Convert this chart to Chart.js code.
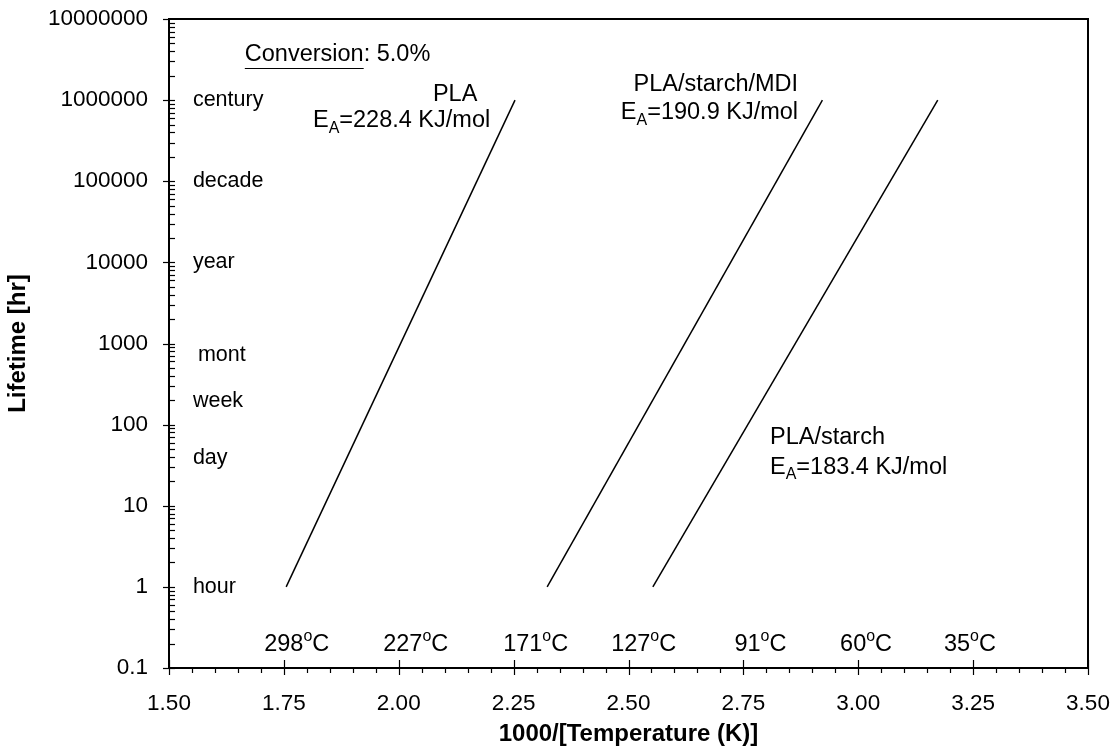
<!DOCTYPE html>
<html lang="en">
<head>
<meta charset="UTF-8">
<title>Lifetime vs 1000/T</title>
<script src="https://cdn.jsdelivr.net/npm/chart.js"></script>
<style>
  html, body { margin: 0; padding: 0; background: #fff; }
  #wrap { width: 1112px; height: 754px; position: relative; }
</style>
</head>
<body>
<div id="wrap"><canvas id="chart"></canvas></div>
<script>
// Series: end points of the Arrhenius lines (x = 1000/T, y = lifetime in hr)
const plaX = [1.755, 2.253];
const plaY = [1, 1000000];
const mdiX = [2.323, 2.922];
const mdiY = [1, 1000000];
const starchX = [2.553, 3.173];
const starchY = [1, 1000000];

// Axis ticks
const xTicks = [1.50, 1.75, 2.00, 2.25, 2.50, 2.75, 3.00, 3.25, 3.50];
const yTicks = [0.1, 1, 10, 100, 1000, 10000, 100000, 1000000, 10000000];

// Temperature labels along the bottom (°C) and where they sit on the 1000/T axis
const tempLabels = ['298', '227', '171', '127', '91', '60', '35'];
const tempX = [1.778, 2.037, 2.298, 2.533, 2.787, 3.017, 3.243];

// Time scale labels on the left (hr)
const timeLabels = ['century', 'decade', 'year', 'mont', 'week', 'day', 'hour'];
const timeY = [1000000, 100000, 10000, 720, 195, 39, 1];

const FONT = 'Arial, "Liberation Sans", sans-serif';
const FS_TICK = 22.5;   // axis numbers
const FS_NOTE = 23.5;   // notes, series and temperature labels
const FS_TIME = 21.5;   // century, decade ...
const FS_TITLE = 24;    // axis titles

function toPts(xs, ys) { return xs.map((x, i) => ({ x: x, y: ys[i] })); }

// text with sub/superscript pieces: [[text, 'n'|'sub'|'sup'], ...]
function fontFor(kind, fs) { return (kind === 'n' ? fs : fs * 0.68) + 'px ' + FONT; }
function drawRich(ctx, parts, x, y, align, fs) {
  let w = 0;
  parts.forEach(p => { ctx.font = fontFor(p[1], fs); w += ctx.measureText(p[0]).width; });
  let cx = align === 'right' ? x - w : (align === 'center' ? x - w / 2 : x);
  ctx.textAlign = 'left';
  ctx.textBaseline = 'middle';
  parts.forEach(p => {
    let dy = 0;
    if (p[1] === 'sub') dy = fs * 0.33;
    if (p[1] === 'sup') dy = -fs * 0.33;
    ctx.font = fontFor(p[1], fs);
    ctx.fillText(p[0], cx, y + dy);
    cx += ctx.measureText(p[0]).width;
  });
}

const decor = {
  id: 'decor',
  afterDraw(chart) {
    const ctx = chart.ctx;
    const xs = chart.scales.x, ys = chart.scales.y;
    const a = chart.chartArea;
    ctx.save();
    ctx.strokeStyle = '#000';
    ctx.fillStyle = '#000';

    // frame
    ctx.lineWidth = 2;
    ctx.strokeRect(a.left, a.top, a.right - a.left, a.bottom - a.top);

    // x ticks: major cross the axis, minor below
    ctx.lineWidth = 1.2;
    for (let i = 0; i <= 40; i++) {
      const v = 1.5 + i * 0.05;
      const px = Math.round(xs.getPixelForValue(v)) + 0.5;
      const major = i % 5 === 0;
      ctx.beginPath();
      ctx.moveTo(px, major ? a.bottom - 8 : a.bottom);
      ctx.lineTo(px, a.bottom + (major ? 7 : 5));
      ctx.stroke();
    }
    // y ticks: major cross the axis, minor inside
    for (let d = -1; d < 7; d++) {
      for (let m = 1; m <= 9; m++) {
        const v = m * Math.pow(10, d);
        const py = Math.round(ys.getPixelForValue(v)) + 0.5;
        ctx.beginPath();
        ctx.moveTo(m === 1 ? a.left - 6 : a.left, py);
        ctx.lineTo(a.left + 6, py);
        ctx.stroke();
      }
    }
    const pyTop = Math.round(ys.getPixelForValue(10000000)) + 0.5;
    ctx.beginPath(); ctx.moveTo(a.left - 6, pyTop); ctx.lineTo(a.left, pyTop); ctx.stroke();

    // temperature labels
    tempLabels.forEach((t, i) => {
      drawRich(ctx, [[t, 'n'], ['o', 'sup'], ['C', 'n']], xs.getPixelForValue(tempX[i]), ys.getPixelForValue(0.193), 'center', FS_NOTE);
    });

    // time labels
    const tx = xs.getPixelForValue(1.552);
    timeLabels.forEach((t, i) => {
      const py = ys.getPixelForValue(timeY[i]);
      ctx.font = FS_TIME + 'px ' + FONT;
      ctx.textAlign = 'left';
      ctx.textBaseline = 'middle';
      if (t === 'mont') {
        // this one is cut off at the bottom in the original
        ctx.save();
        ctx.beginPath();
        ctx.rect(tx - 2, py - 20, 90, 26);
        ctx.clip();
        ctx.fillText(t, tx + 5, py);
        ctx.restore();
      } else {
        ctx.fillText(t, tx, py);
      }
    });

    // conversion note
    const cx = xs.getPixelForValue(1.665), cy = ys.getPixelForValue(3600000);
    ctx.font = FS_NOTE + 'px ' + FONT;
    ctx.textAlign = 'left';
    ctx.textBaseline = 'middle';
    const cw = ctx.measureText('Conversion').width;
    ctx.fillText('Conversion', cx, cy);
    ctx.fillText(': 5.0%', cx + cw, cy);
    ctx.lineWidth = 1.2;
    ctx.beginPath();
    ctx.moveTo(cx, Math.round(cy + 13) + 0.5);
    ctx.lineTo(cx + cw, Math.round(cy + 13) + 0.5);
    ctx.stroke();

    // series labels
    drawRich(ctx, [['PLA', 'n']], xs.getPixelForValue(2.171), ys.getPixelForValue(1180000), 'right', FS_NOTE);
    drawRich(ctx, [['E', 'n'], ['A', 'sub'], ['=228.4 KJ/mol', 'n']], xs.getPixelForValue(2.199), ys.getPixelForValue(560000), 'right', FS_NOTE);
    drawRich(ctx, [['PLA/starch/MDI', 'n']], xs.getPixelForValue(2.869), ys.getPixelForValue(1560000), 'right', FS_NOTE);
    drawRich(ctx, [['E', 'n'], ['A', 'sub'], ['=190.9 KJ/mol', 'n']], xs.getPixelForValue(2.869), ys.getPixelForValue(700000), 'right', FS_NOTE);
    drawRich(ctx, [['PLA/starch', 'n']], xs.getPixelForValue(2.808), ys.getPixelForValue(69), 'left', FS_NOTE);
    drawRich(ctx, [['E', 'n'], ['A', 'sub'], ['=183.4 KJ/mol', 'n']], xs.getPixelForValue(2.808), ys.getPixelForValue(30), 'left', FS_NOTE);

    ctx.restore();
  }
};

const lineStyle = { showLine: true, borderColor: '#000', borderWidth: 1.5, pointRadius: 0, fill: false };

new Chart(document.getElementById('chart'), {
  type: 'scatter',
  data: {
    datasets: [
      Object.assign({ label: 'PLA', data: toPts(plaX, plaY) }, lineStyle),
      Object.assign({ label: 'PLA/starch/MDI', data: toPts(mdiX, mdiY) }, lineStyle),
      Object.assign({ label: 'PLA/starch', data: toPts(starchX, starchY) }, lineStyle)
    ]
  },
  options: {
    responsive: true,
    maintainAspectRatio: false,
    animation: false,
    layout: { padding: { top: 19, right: 24, left: 0, bottom: 0 } },
    plugins: { legend: { display: false }, tooltip: { enabled: false } },
    scales: {
      x: {
        type: 'linear', min: 1.5, max: 3.5,
        afterBuildTicks: s => { s.ticks = xTicks.map(v => ({ value: v })); },
        afterFit: s => { s.height = 86; s.paddingLeft = 0; s.paddingRight = 0; },
        grid: { display: false, drawTicks: false },
        border: { display: false },
        ticks: { color: '#000', padding: 22, font: { family: FONT, size: FS_TICK }, callback: v => Number(v).toFixed(2) },
        title: { display: true, text: '1000/[Temperature (K)]', color: '#000', font: { family: FONT, size: FS_TITLE, weight: 'bold' }, padding: { top: 0, bottom: 5 } }
      },
      y: {
        type: 'logarithmic', min: 0.1, max: 10000000,
        afterBuildTicks: s => { s.ticks = yTicks.map(v => ({ value: v })); },
        afterFit: s => { s.width = 169; s.paddingTop = 0; s.paddingBottom = 0; },
        grid: { display: false, drawTicks: false },
        border: { display: false },
        ticks: { color: '#000', padding: 21, font: { family: FONT, size: FS_TICK }, callback: v => String(v) },
        title: { display: true, text: 'Lifetime [hr]', color: '#000', font: { family: FONT, size: FS_TITLE, weight: 'bold' }, padding: { top: 4, bottom: 0 } }
      }
    }
  },
  plugins: [decor]
});
</script>
</body>
</html>
